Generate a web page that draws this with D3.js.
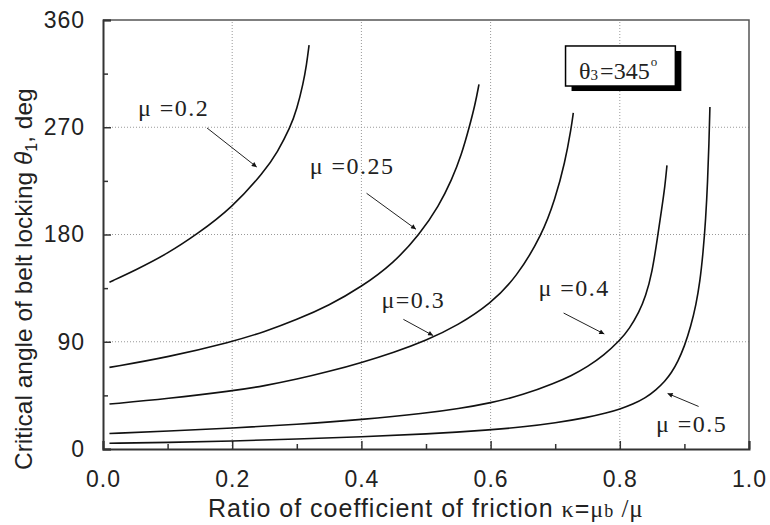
<!DOCTYPE html>
<html lang="en">
<head>
<meta charset="utf-8">
<title>Critical angle of belt locking</title>
<script src="https://d3js.org/d3.v7.min.js"></script>
<style>
    body { margin: 0; background: #fff; }
    svg { display: block; }
    .tick text { font-family: "Liberation Sans", Arial, sans-serif; font-size: 23px; fill: #222; letter-spacing: 1px; }
    .lab { font-family: "Liberation Serif", "Times New Roman", serif; font-size: 24px; fill: #222; letter-spacing: 1.5px; }
</style>
</head>
<body>
<div id="chart"></div>
<script>
// axis ticks
const kappaTicks = [0, 0.2, 0.4, 0.6, 0.8, 1.0];
const kappaMinor = [0.1, 0.3, 0.5, 0.7, 0.9];
const thetaTicks = [0, 90, 180, 270, 360];
const thetaMinor = [45, 135, 225, 315];

// curves: kappa values and theta1 (deg)
const mu02K = [0.01, 0.05, 0.1, 0.145, 0.2, 0.25, 0.27, 0.29, 0.3, 0.31, 0.315, 0.319];
const mu02T = [140, 150, 164, 180, 202.5, 233, 249, 270, 285, 307, 322, 339];
const mu025K = [0.01, 0.1, 0.2, 0.25, 0.3, 0.35, 0.4, 0.45, 0.49, 0.52, 0.54, 0.555, 0.567, 0.576, 0.582];
const mu025T = [68.5, 77, 90, 98.3, 108.5, 120.5, 136, 156, 180, 204, 226, 247, 270, 289, 306];
const mu03K = [0.01, 0.1, 0.2, 0.25, 0.3, 0.35, 0.4, 0.45, 0.5, 0.55, 0.6, 0.64, 0.68, 0.7, 0.715, 0.725, 0.728];
const mu03T = [37.7, 42.2, 48.7, 53, 58.5, 65, 72.5, 81, 91, 104, 122, 144, 180, 210, 240, 270, 282];
const mu04K = [0.01, 0.1, 0.2, 0.3, 0.4, 0.5, 0.55, 0.6, 0.65, 0.7, 0.725, 0.75, 0.775, 0.8, 0.815, 0.83, 0.84, 0.85, 0.858, 0.865, 0.87, 0.873];
const mu04T = [13, 15, 17.5, 20.6, 24.6, 30, 33.8, 38.6, 45.3, 55.5, 61.5, 69, 78.5, 91, 101, 115, 128, 148, 176, 202, 221, 238];
const mu05K = [0.01, 0.1, 0.2, 0.3, 0.4, 0.5, 0.6, 0.65, 0.7, 0.75, 0.78, 0.8, 0.82, 0.84, 0.856, 0.87, 0.88, 0.89, 0.9, 0.91, 0.918, 0.924, 0.929, 0.933, 0.936, 0.938, 0.9395];
const mu05T = [4.8, 5.5, 6.7, 8.3, 10.2, 12.5, 16, 18.5, 21.8, 26.5, 30.3, 33.5, 37.5, 43, 49.5, 57, 64, 73.5, 86, 103, 121, 140, 165, 193, 225, 256, 287];

const curveK = [mu02K, mu025K, mu03K, mu04K, mu05K];
const curveT = [mu02T, mu025T, mu03T, mu04T, mu05T];

const width = 770, height = 525;
const margin = {left: 103, top: 20, right: 21, bottom: 76};

const svg = d3.select("#chart").append("svg")
    .attr("width", width).attr("height", height);

const x = d3.scaleLinear().domain([0, 1]).range([margin.left, width - margin.right]);
const y = d3.scaleLinear().domain([0, 360]).range([height - margin.bottom, margin.top]);

// dotted grid
svg.append("g").selectAll("line")
    .data(kappaTicks.slice(1, -1)).enter().append("line")
    .attr("x1", d => x(d)).attr("x2", d => x(d))
    .attr("y1", y(0)).attr("y2", y(360))
    .attr("stroke", "#999").attr("stroke-dasharray", "1,2");
svg.append("g").selectAll("line")
    .data(thetaTicks.slice(1, -1)).enter().append("line")
    .attr("y1", d => y(d)).attr("y2", d => y(d))
    .attr("x1", x(0)).attr("x2", x(1))
    .attr("stroke", "#999").attr("stroke-dasharray", "1,2");

// frame top + right
svg.append("path")
    .attr("d", `M${x(0)},${y(360)}H${x(1)}V${y(0)}`)
    .attr("fill", "none").attr("stroke", "#555").attr("stroke-width", 1.5);

// axes (inward ticks)
const xAxis = svg.append("g").attr("transform", `translate(0,${y(0)})`)
    .call(d3.axisBottom(x).tickValues(kappaTicks).tickSize(-8).tickPadding(22).tickFormat(d3.format(".1f")));
svg.append("g").attr("transform", `translate(0,${y(0)})`)
    .call(d3.axisBottom(x).tickValues(kappaMinor).tickSize(-5).tickFormat(""))
    .select(".domain").remove();
const yAxis = svg.append("g").attr("transform", `translate(${x(0)},0)`)
    .call(d3.axisLeft(y).tickValues(thetaTicks).tickSize(-8).tickPadding(18));
svg.append("g").attr("transform", `translate(${x(0)},0)`)
    .call(d3.axisLeft(y).tickValues(thetaMinor).tickSize(-5).tickFormat(""))
    .select(".domain").remove();
svg.selectAll(".domain").attr("stroke", "#333").attr("stroke-width", 2);
svg.selectAll(".tick line").attr("stroke", "#333").attr("stroke-width", 1.5);
xAxis.selectAll(".tick text").attr("dy", "0.71em");

// curves
const line = d3.line().x(d => x(d[0])).y(d => y(d[1])).curve(d3.curveBasis);
curveK.forEach((ks, i) => {
    const pts = ks.map((k, j) => [k, curveT[i][j]]);
    svg.append("path").datum(pts)
        .attr("d", line)
        .attr("fill", "none").attr("stroke", "#111").attr("stroke-width", 1.6);
});

// arrow marker
svg.append("defs").append("marker")
    .attr("id", "arr").attr("viewBox", "0 0 10 10")
    .attr("refX", 10).attr("refY", 5)
    .attr("markerWidth", 9).attr("markerHeight", 5)
    .attr("markerUnits", "userSpaceOnUse")
    .attr("orient", "auto")
    .append("path").attr("d", "M0,0L10,5L0,10Z").attr("fill", "#111");

// labels: text anchor and arrow, in data units
const labels = [
    {name: "0.2", sp: " ", t: [0.054, 279.5], a: [0.161, 269.4], b: [0.238, 236.6]},
    {name: "0.25", sp: " ", t: [0.32, 230.8], a: [0.408, 214.6], b: [0.4845, 184.4]},
    {name: "0.3", sp: "", t: [0.431, 118.3], a: [0.465, 108.8], b: [0.511, 95.2]},
    {name: "0.4", sp: " ", t: [0.674, 128.4], a: [0.713, 114.1], b: [0.776, 96.5]},
    {name: "0.5", sp: " ", t: [0.856, 14.3], a: [0.922, 35.7], b: [0.874, 46.6]}
];
labels.forEach(l => {
    svg.append("text").attr("class", "lab")
        .attr("x", x(l.t[0])).attr("y", y(l.t[1]))
        .style("white-space", "pre")
        .text("\u03bc" + l.sp + "=" + l.name);
    svg.append("line")
        .attr("x1", x(l.a[0])).attr("y1", y(l.a[1]))
        .attr("x2", x(l.b[0])).attr("y2", y(l.b[1]))
        .attr("stroke", "#222").attr("stroke-width", 1)
        .attr("marker-end", "url(#arr)");
});

// theta3 box with shadow
const bx = x(0.716), by = y(338.2), bw = x(0.886) - x(0.716), bh = y(304.6) - y(338.2);
svg.append("rect").attr("x", bx + 6).attr("y", by + 5).attr("width", bw).attr("height", bh).attr("fill", "#000");
svg.append("rect").attr("x", bx).attr("y", by).attr("width", bw).attr("height", bh)
    .attr("fill", "#fff").attr("stroke", "#000").attr("stroke-width", 1.5);
const bt = svg.append("text").attr("class", "lab")
    .attr("x", x(0.737)).attr("y", y(310.2)).style("font-size", "24px").style("letter-spacing", "0px");
bt.append("tspan").text("\u03b8");
bt.append("tspan").attr("dy", 1).style("font-size", "15px").text("3");
bt.append("tspan").attr("dy", -1).attr("dx", 2).text("=345");
bt.append("tspan").attr("dy", -13).attr("dx", 1).style("font-size", "13px").text("o");

// axis titles
const xt = svg.append("text")
    .attr("x", 208).attr("y", 517)
    .style("font-family", "'Liberation Sans', Arial, sans-serif").style("font-size", "25px")
    .style("letter-spacing", "1px").attr("fill", "#222")
    .style("white-space", "pre");
xt.append("tspan").text("Ratio of coefficient of friction ");
xt.append("tspan").style("font-family", "'Liberation Serif', serif").style("font-size", "24px").text("\u03ba");
xt.append("tspan").text("=");
xt.append("tspan").style("font-family", "'Liberation Serif', serif").style("font-size", "24px").text("\u03bc");
xt.append("tspan").style("font-family", "'Liberation Serif', serif").style("font-size", "18px").text("b");
xt.append("tspan").style("font-family", "'Liberation Serif', serif").style("font-size", "25px").text(" /\u03bc");

const yt = svg.append("text")
    .attr("transform", `translate(32,${y(0) + 21}) rotate(-90)`)
    .style("font-family", "'Liberation Sans', Arial, sans-serif").style("font-size", "24.5px").attr("fill", "#222")
    .style("white-space", "pre");
yt.append("tspan").text("Critical angle of belt locking ");
yt.append("tspan").style("font-style", "italic").text("\u03b8");
yt.append("tspan").attr("dy", 5).style("font-size", "16px").text("1");
yt.append("tspan").attr("dy", -5).text(", deg");
</script>
</body>
</html>
